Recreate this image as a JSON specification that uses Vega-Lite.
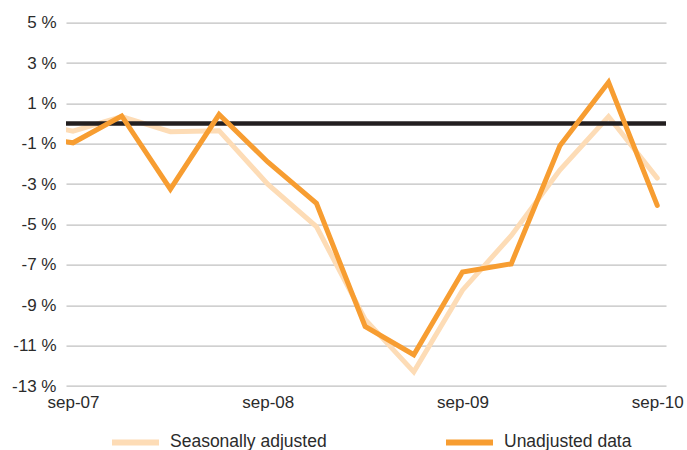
{
  "$schema": "https://vega.github.io/schema/vega-lite/v6.json",
  "autosize": {"type": "none"},
  "width": 600,
  "height": 363.3,
  "padding": {"left": 66, "top": 22.7, "right": 21, "bottom": 64},
  "background": "white",
  "config": {
    "view": {"stroke": null},
    "font": "Liberation Sans",
    "axis": {"labelFont": "Liberation Sans", "labelFontSize": 17, "labelColor": "#2b2b2b"}
  },
  "datasets": {
    "series": [
      {"q": -1, "series": "Seasonally adjusted", "value": 0.1},
      {"q": 0, "series": "Seasonally adjusted", "value": -0.37},
      {"q": 1, "series": "Seasonally adjusted", "value": 0.35},
      {"q": 2, "series": "Seasonally adjusted", "value": -0.4},
      {"q": 3, "series": "Seasonally adjusted", "value": -0.35},
      {"q": 4, "series": "Seasonally adjusted", "value": -3.0},
      {"q": 5, "series": "Seasonally adjusted", "value": -5.1},
      {"q": 6, "series": "Seasonally adjusted", "value": -9.7},
      {"q": 7, "series": "Seasonally adjusted", "value": -12.3},
      {"q": 8, "series": "Seasonally adjusted", "value": -8.25},
      {"q": 9, "series": "Seasonally adjusted", "value": -5.55},
      {"q": 10, "series": "Seasonally adjusted", "value": -2.3},
      {"q": 11, "series": "Seasonally adjusted", "value": 0.35},
      {"q": 12, "series": "Seasonally adjusted", "value": -2.7},
      {"q": -1, "series": "Unadjusted data", "value": -0.6},
      {"q": 0, "series": "Unadjusted data", "value": -0.95},
      {"q": 1, "series": "Unadjusted data", "value": 0.38},
      {"q": 2, "series": "Unadjusted data", "value": -3.25},
      {"q": 3, "series": "Unadjusted data", "value": 0.45},
      {"q": 4, "series": "Unadjusted data", "value": -1.9},
      {"q": 5, "series": "Unadjusted data", "value": -3.95},
      {"q": 6, "series": "Unadjusted data", "value": -10.05},
      {"q": 7, "series": "Unadjusted data", "value": -11.45},
      {"q": 8, "series": "Unadjusted data", "value": -7.35},
      {"q": 9, "series": "Unadjusted data", "value": -6.95},
      {"q": 10, "series": "Unadjusted data", "value": -1.1},
      {"q": 11, "series": "Unadjusted data", "value": 2.05},
      {"q": 12, "series": "Unadjusted data", "value": -4.05}
    ],
    "zero": [{"value": 0}]
  },
  "layer": [
    {
      "data": {"name": "series"},
      "transform": [{"filter": "datum.series === 'Seasonally adjusted'"}],
      "mark": {"type": "line", "strokeWidth": 5, "strokeCap": "round", "clip": true},
      "encoding": {
        "x": {
          "field": "q", "type": "quantitative",
          "scale": {"domain": [-0.144, 12.18], "nice": false, "zero": false},
          "axis": {
            "title": null, "values": [0, 4, 8, 12], "grid": false, "domain": false, "ticks": false,
            "labelPadding": 8, "labelFlush": false, "labelOverlap": false,
            "labelExpr": "datum.value == 0 ? 'sep-07' : datum.value == 4 ? 'sep-08' : datum.value == 8 ? 'sep-09' : 'sep-10'"
          }
        },
        "y": {
          "field": "value", "type": "quantitative",
          "scale": {"domain": [-13, 5], "nice": false, "zero": false},
          "axis": {
            "title": null, "values": [-13, -11, -9, -7, -5, -3, -1, 1, 3, 5], "grid": true,
            "gridColor": "#c0c0c0", "gridWidth": 1.3, "domain": false, "ticks": false,
            "labelPadding": 10, "labelExpr": "datum.value + ' %'"
          }
        },
        "color": {
          "field": "series", "type": "nominal",
          "scale": {"domain": ["Seasonally adjusted", "Unadjusted data"], "range": ["#fddcb6", "#f79d31"]},
          "legend": {
            "title": null, "orient": "none", "legendX": 43, "legendY": 393,
            "direction": "horizontal", "columns": 2, "columnPadding": 107,
            "symbolType": "stroke", "symbolSize": 2209, "symbolStrokeWidth": 6,
            "labelFont": "Liberation Sans", "labelFontSize": 17.5, "labelColor": "#2b2b2b", "labelOffset": 8,
            "labelLimit": 300
          }
        }
      }
    },
    {
      "data": {"name": "zero"},
      "mark": {"type": "rule", "color": "#231f20", "strokeWidth": 4.5},
      "encoding": {"y": {"field": "value", "type": "quantitative"}}
    },
    {
      "data": {"name": "series"},
      "transform": [{"filter": "datum.series === 'Unadjusted data'"}],
      "mark": {"type": "line", "strokeWidth": 5, "strokeCap": "round", "clip": true},
      "encoding": {
        "x": {"field": "q", "type": "quantitative"},
        "y": {"field": "value", "type": "quantitative"},
        "color": {"field": "series", "type": "nominal"}
      }
    }
  ]
}
